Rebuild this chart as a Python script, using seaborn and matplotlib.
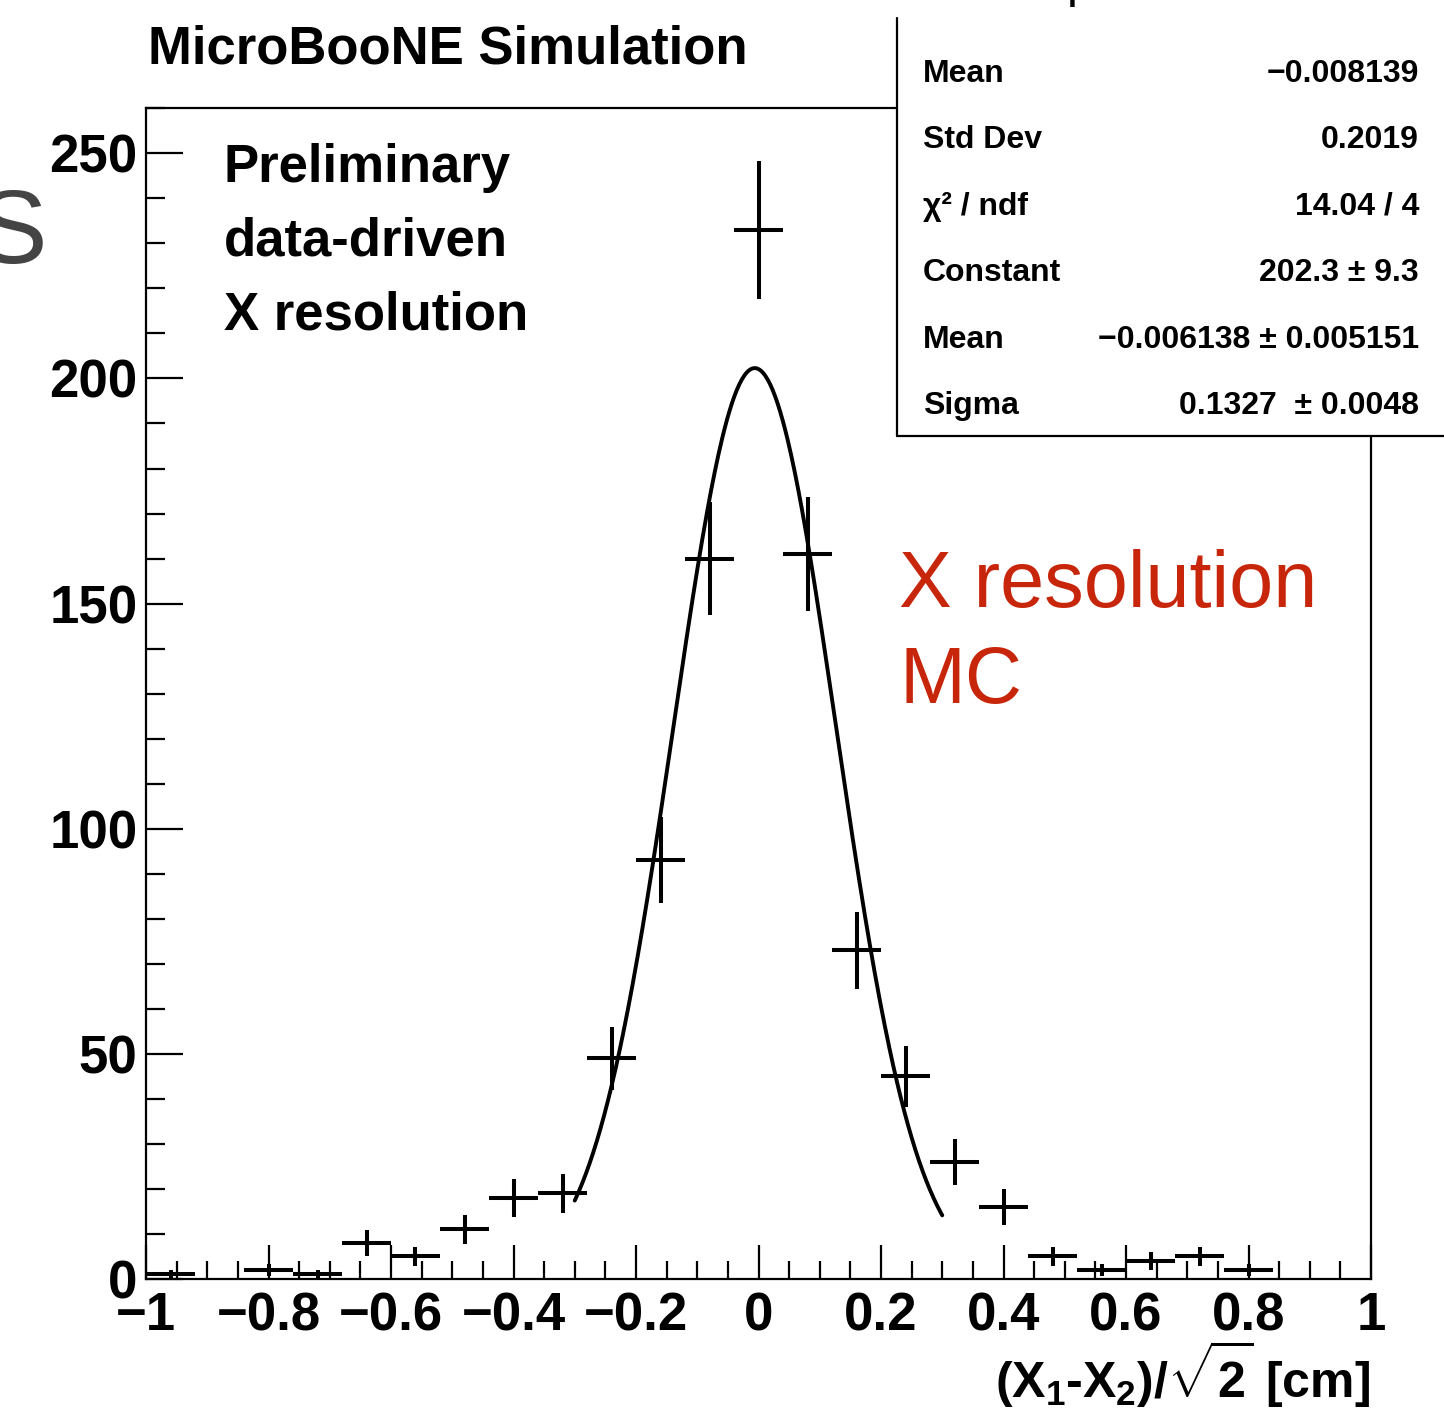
import numpy as np
import pandas as pd
import matplotlib
matplotlib.use("Agg")
import matplotlib.pyplot as plt
import seaborn as sns
from matplotlib.ticker import MultipleLocator
from matplotlib.patches import Rectangle
from matplotlib.lines import Line2D

# ---------------- data ----------------
bin_centers = [-0.96, -0.88, -0.80, -0.72, -0.64, -0.56, -0.48, -0.40, -0.32, -0.24,
               -0.16, -0.08, 0.00, 0.08, 0.16, 0.24, 0.32, 0.40, 0.48, 0.56,
               0.64, 0.72, 0.80, 0.88, 0.96]
counts = [1, 0, 2, 1, 8, 5, 11, 18, 19, 49,
          93, 160, 233, 161, 73, 45, 26, 16, 5, 2,
          4, 5, 2, 0, 0]
count_errors = [1.0, 0, 1.4, 1.0, 2.8, 2.2, 3.3, 4.2, 4.4, 7.0,
                9.6, 12.6, 15.3, 12.7, 8.5, 6.7, 5.1, 4.0, 2.2, 1.4,
                2.0, 2.2, 1.4, 0, 0]
bin_half_width = 0.04

fit_constant = 202.3
fit_mean = -0.006138
fit_sigma = 0.1327
fit_range = (-0.3, 0.3)

x_ticks = [-1, -0.8, -0.6, -0.4, -0.2, 0, 0.2, 0.4, 0.6, 0.8, 1]
x_tick_labels = ["\u22121", "\u22120.8", "\u22120.6", "\u22120.4", "\u22120.2", "0",
                 "0.2", "0.4", "0.6", "0.8", "1"]
y_ticks = [0, 50, 100, 150, 200, 250]
y_tick_labels = ["0", "50", "100", "150", "200", "250"]

stats_labels = ["Mean", "Std Dev", "\u03c7\u00b2 / ndf", "Constant", "Mean", "Sigma"]
stats_values = ["\u22120.008139", "0.2019", "14.04 / 4", "202.3 \u00b1 9.3",
                "\u22120.006138 \u00b1 0.005151", "0.1327  \u00b1 0.0048"]

title_text = "MicroBooNE Simulation"
note_lines = ["Preliminary", "data-driven", "X resolution"]
red_lines = ["X resolution", "MC"]

# ---------------- style ----------------
sns.set_theme(style="ticks")
plt.rcParams["font.family"] = ["Liberation Sans", "DejaVu Sans"]
plt.rcParams["text.color"] = "black"
plt.rcParams["mathtext.fontset"] = "custom"
plt.rcParams["mathtext.rm"] = "Liberation Sans:bold"
plt.rcParams["mathtext.it"] = "Liberation Sans:bold"
plt.rcParams["mathtext.bf"] = "Liberation Sans:bold"

W, H = 1444, 1412
fig = plt.figure(figsize=(W / 100, H / 100), dpi=100)
fig.patch.set_facecolor("white")


def fx(x):
    return x / W


def fy(y):
    return 1 - y / H


ax_l, ax_r, ax_t, ax_b = 146, 1371, 108.3, 1279
ax = fig.add_axes([fx(ax_l), fy(ax_b), (ax_r - ax_l) / W, (ax_b - ax_t) / H])
ax.set_facecolor("white")

df = pd.DataFrame({"x": bin_centers, "y": counts, "err": count_errors})
dfp = df[df["y"] > 0]

ax.errorbar(dfp["x"], dfp["y"], xerr=bin_half_width, yerr=dfp["err"], fmt="none",
            ecolor="black", elinewidth=2.9, capsize=0, zorder=3)

xf = np.linspace(fit_range[0], fit_range[1], 300)
yf = fit_constant * np.exp(-0.5 * ((xf - fit_mean) / fit_sigma) ** 2)
sns.lineplot(x=xf, y=yf, color="black", lw=2.8, ax=ax, zorder=4)

ax.set_xlim(-1, 1)
ax.set_ylim(0, 260)
ax.set_xticks(x_ticks)
ax.set_xticklabels(x_tick_labels)
ax.set_yticks(y_ticks)
ax.set_yticklabels(y_tick_labels)
ax.xaxis.set_minor_locator(MultipleLocator(0.05))
ax.yaxis.set_minor_locator(MultipleLocator(10))
ax.tick_params(axis="x", which="major", direction="in", length=24.5, width=1.6, pad=9,
               labelsize=38, top=False, color="black", labelcolor="black")
ax.tick_params(axis="x", which="minor", direction="in", length=13, width=1.6, top=False,
               color="black")
ax.tick_params(axis="y", which="major", direction="in", length=26.5, width=1.6, pad=6,
               labelsize=38, right=False, color="black", labelcolor="black")
ax.tick_params(axis="y", which="minor", direction="in", length=13.5, width=1.6, right=False,
               color="black")
for lab in ax.get_xticklabels() + ax.get_yticklabels():
    lab.set_fontweight("bold")
for sp in ax.spines.values():
    sp.set_linewidth(1.6)
    sp.set_color("black")
ax.set_xlabel("")
ax.set_ylabel("")

# title and notes
fig.text(fx(148), fy(63), title_text, fontsize=38, fontweight="bold", ha="left",
         va="baseline", color="black")
for i, line in enumerate(note_lines):
    fig.text(fx(224), fy(182 + 73.5 * i), line, fontsize=38, fontweight="bold",
             ha="left", va="baseline", color="black")

# x label
fig.text(fx(1370), fy(1397), r"$(X_1$-$X_2)/\sqrt{2}$ [cm]", fontsize=36,
         fontweight="bold", ha="right", va="baseline", color="black")

# red annotation
for i, line in enumerate(red_lines):
    fig.text(fx(899), fy(607 + 96 * i), line, fontsize=57, ha="left", va="baseline",
             color="#c8260b")

# stats box
box = Rectangle((fx(897), fy(436)), (1460 - 897) / W, (436 - 18) / H,
                transform=fig.transFigure, facecolor="white", edgecolor="none", zorder=5)
fig.patches.append(box)
fig.lines.append(Line2D([fx(897), fx(897)], [fy(18), fy(436)], transform=fig.transFigure,
                        color="black", lw=1.6, zorder=6))
fig.lines.append(Line2D([fx(897), fx(1460)], [fy(436), fy(436)], transform=fig.transFigure,
                        color="black", lw=1.6, zorder=6))
for i, (lab, val) in enumerate(zip(stats_labels, stats_values)):
    yb = 82 + 66.4 * i
    fig.text(fx(923), fy(yb), lab, fontsize=23, fontweight="bold", ha="left",
             va="baseline", zorder=7, color="black")
    fig.text(fx(1419), fy(yb), val, fontsize=23, fontweight="bold", ha="right",
             va="baseline", zorder=7, color="black")
# cut-off box title fragment
fig.text(fx(1068), fy(0), "p", fontsize=23, fontweight="bold", ha="left",
         va="baseline", zorder=7, color="black")

# cut-off slide letter on the left
fig.text(fx(47), fy(263), "S", fontsize=75, ha="right", va="baseline", color="#444444")

fig.savefig("out.png", dpi=100)
